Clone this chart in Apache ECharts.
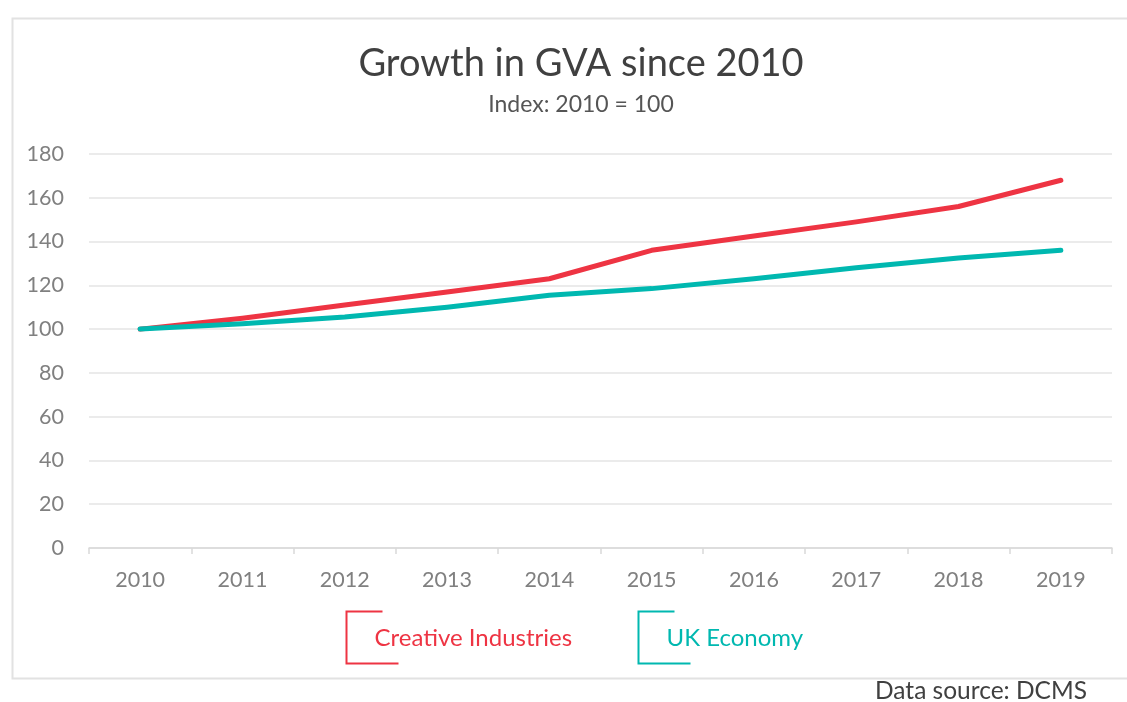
<!DOCTYPE html>
<html>
<head>
<meta charset="utf-8">
<script src="https://cdn.jsdelivr.net/npm/echarts@6/dist/echarts.min.js"></script>
<style>
  html, body { margin: 0; padding: 0; background: #ffffff; }
  #chart { width: 1127px; height: 702px; }
</style>
</head>
<body>
<div id="chart"></div>
<script>
// Gross value added, indexed to 2010 = 100
const years = ['2010', '2011', '2012', '2013', '2014', '2015', '2016', '2017', '2018', '2019'];
const creativeIndustries = [100, 105, 111, 117, 123, 136, 142.5, 149, 156, 168];
const ukEconomy = [100, 102.5, 105.5, 110, 115.5, 118.5, 123, 128, 132.5, 136];
const seriesNames = ['Creative Industries', 'UK Economy'];
const seriesColors = ['#ee3443', '#00b8b0'];

const FONT = 'Lato, "Noto Sans", sans-serif';

const chart = echarts.init(document.getElementById('chart'), null, { renderer: 'canvas' });

// Bracket-style legend keys drawn beside each series name
function legendItem(x, y, name, color) {
  return {
    type: 'group',
    left: x,
    top: y,
    children: [
      {
        type: 'polyline',
        shape: { points: [[36, 0], [0, 0], [0, 52], [52, 52]] },
        style: { stroke: color, lineWidth: 2, fill: null }
      },
      {
        type: 'text',
        x: 28,
        y: 27,
        style: {
          text: name,
          fill: color,
          font: '24px ' + FONT,
          verticalAlign: 'middle'
        }
      }
    ]
  };
}

chart.setOption({
  backgroundColor: '#ffffff',
  animation: false,
  title: {
    text: 'Growth in GVA since 2010',
    subtext: 'Index: 2010 = 100',
    left: 576,
    textAlign: 'center',
    top: 40,
    itemGap: 10,
    textStyle: { fontFamily: FONT, fontSize: 38, fontWeight: 'normal', color: '#404040' },
    subtextStyle: { fontFamily: FONT, fontSize: 23, color: '#555555' }
  },
  grid: { left: 89, right: 15, top: 154, bottom: 154, containLabel: false },
  xAxis: {
    type: 'category',
    data: years,
    boundaryGap: true,
    axisLine: { lineStyle: { color: '#d9d9d9', width: 1.5 } },
    axisTick: { show: true, alignWithLabel: false, length: 6, lineStyle: { color: '#d9d9d9', width: 1.5 } },
    axisLabel: { color: '#808080', fontFamily: FONT, fontSize: 21.5, margin: 21 }
  },
  yAxis: {
    type: 'value',
    min: 0,
    max: 180,
    interval: 20,
    axisLine: { show: false },
    axisTick: { show: false },
    axisLabel: { color: '#808080', fontFamily: FONT, fontSize: 21.5, margin: 25 },
    splitLine: { lineStyle: { color: '#e4e4e4', width: 1.5 } }
  },
  series: [
    {
      name: seriesNames[0],
      type: 'line',
      data: creativeIndustries,
      symbol: 'none',
      lineStyle: { color: seriesColors[0], width: 5, cap: 'round', join: 'round' },
      z: 3
    },
    {
      name: seriesNames[1],
      type: 'line',
      data: ukEconomy,
      symbol: 'none',
      lineStyle: { color: seriesColors[1], width: 5, cap: 'round', join: 'round' },
      z: 4
    }
  ],
  graphic: [
    {
      type: 'rect',
      left: 10,
      top: 16,
      z: -10,
      shape: { x: 0, y: 0, width: 1140, height: 660 },
      style: { fill: null, stroke: '#e2e2e2', lineWidth: 2 }
    },
    legendItem(344, 609, seriesNames[0], seriesColors[0]),
    legendItem(636, 609, seriesNames[1], seriesColors[1]),
    {
      type: 'text',
      right: 40,
      top: 679,
      style: {
        text: 'Data source: DCMS',
        fill: '#404040',
        font: '24.5px ' + FONT
      }
    }
  ]
});
</script>
</body>
</html>
